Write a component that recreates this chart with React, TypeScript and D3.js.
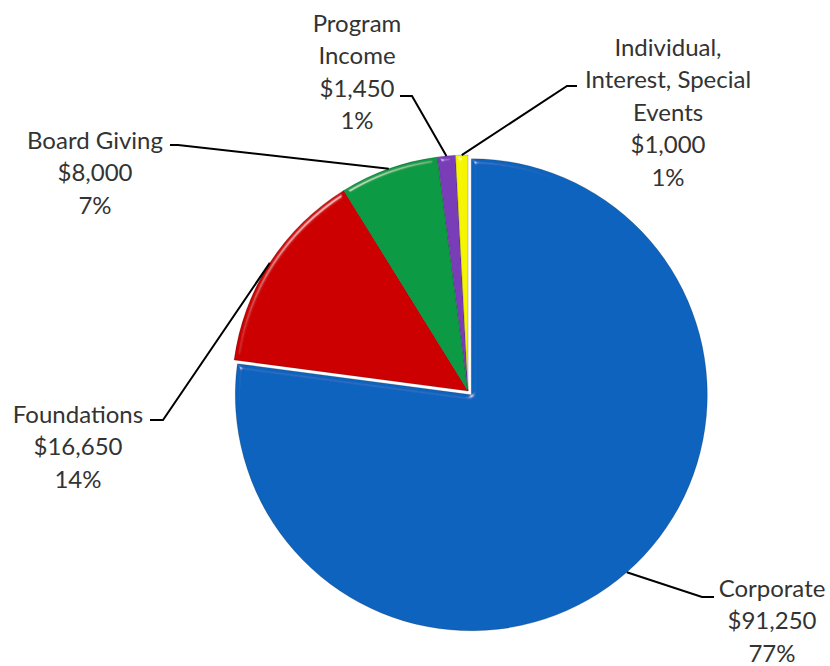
import React, { useEffect, useRef } from "react";
import * as d3 from "d3";

// chart data
const categories = ["Corporate", "Foundations", "Board Giving", "Program Income", "Individual, Interest, Special Events"];
const amounts = [91250, 16650, 8000, 1450, 1000];
const percentLabels = ["77%", "14%", "7%", "1%", "1%"];
const labelLines = [
  ["Corporate"],
  ["Foundations"],
  ["Board Giving"],
  ["Program", "Income"],
  ["Individual,", "Interest, Special", "Events"],
];
const colors = ["#0b63bd", "#cc0000", "#0b9a45", "#7a3cb8", "#f5f500"];

// label placement (text centre x, first line y, leader start, elbow)
const labelLayout = [
  { x: 772, y: 587, sx: 714, sy: 597, ex: 702, ey: 597 },
  { x: 78, y: 413, sx: 150, sy: 420, ex: 163, ey: 420 },
  { x: 95, y: 139, sx: 170, sy: 145, ex: 178, ey: 145 },
  { x: 357, y: 22, sx: 400, sy: 96, ex: 412, ey: 96 },
  { x: 668, y: 46, sx: 577, sy: 86, ex: 567, ey: 86 },
];

const W = 830;
const H = 666;
const CX = 468;
const CY = 391;
const R = 236;
const EXPLODE = 5;
const LINE_H = 32.5;

interface Slice {
  name: string;
  value: number;
  index: number;
}

const App: React.FC = () => {
  const svgRef = useRef<SVGSVGElement | null>(null);

  useEffect(() => {
    if (!svgRef.current) return;
    const svg = d3.select(svgRef.current);
    svg.selectAll("*").remove();

    const data: Slice[] = categories.map((name, i) => ({ name, value: amounts[i], index: i }));
    const fmt = d3.format(",");

    // soft bevel, roughly like the office chart style
    const defs = svg.append("defs");
    const filter = defs.append("filter").attr("id", "bevel").attr("x", "-10%").attr("y", "-10%").attr("width", "120%").attr("height", "120%");
    filter.append("feGaussianBlur").attr("in", "SourceAlpha").attr("stdDeviation", 2.5).attr("result", "blur");
    const spec = filter.append("feSpecularLighting")
      .attr("in", "blur")
      .attr("surfaceScale", 4)
      .attr("specularConstant", 0.8)
      .attr("specularExponent", 60)
      .attr("lighting-color", "#ffffff")
      .attr("result", "spec");
    spec.append("feDistantLight").attr("azimuth", 235).attr("elevation", 35);
    filter.append("feComposite").attr("in", "spec").attr("in2", "SourceAlpha").attr("operator", "in").attr("result", "specOut");
    filter.append("feComposite")
      .attr("in", "SourceGraphic")
      .attr("in2", "specOut")
      .attr("operator", "arithmetic")
      .attr("k1", 0).attr("k2", 1).attr("k3", 0.6).attr("k4", 0);

    const pie = d3.pie<Slice>().value((d) => d.value).sort(null);
    const arc = d3.arc<d3.PieArcDatum<Slice>>().innerRadius(0).outerRadius(R);
    const arcs = pie(data);

    const offset = (d: d3.PieArcDatum<Slice>) => {
      if (d.index !== 0) return [0, 0];
      const mid = (d.startAngle + d.endAngle) / 2;
      return [EXPLODE * Math.sin(mid), -EXPLODE * Math.cos(mid)];
    };

    const pieG = svg.append("g").attr("transform", `translate(${CX},${CY})`);

    pieG.selectAll("path.slice")
      .data(arcs)
      .enter()
      .append("path")
      .attr("class", "slice")
      .attr("transform", (d) => {
        const [dx, dy] = offset(d);
        return `translate(${dx},${dy})`;
      })
      .attr("d", arc as any)
      .attr("fill", (d) => colors[d.data.index])
      .attr("stroke", "rgba(0,0,0,0.3)")
      .attr("stroke-width", 0.6)
      .attr("filter", "url(#bevel)");

    // leader lines
    const leaders = svg.append("g");
    arcs.forEach((d) => {
      const L = labelLayout[d.index];
      const [dx, dy] = offset(d);
      const mid = (d.startAngle + d.endAngle) / 2;
      const px = CX + dx + R * Math.sin(mid);
      const py = CY + dy - R * Math.cos(mid);
      leaders.append("path")
        .attr("d", `M${L.sx},${L.sy}L${L.ex},${L.ey}L${px},${py}`)
        .attr("fill", "none")
        .attr("stroke", "#000")
        .attr("stroke-width", 2);
    });

    // labels
    const labels = svg.append("g")
      .style("font-family", "Lato, 'Noto Sans', sans-serif")
      .style("font-size", "24px")
      .attr("fill", "#333333");
    data.forEach((d, i) => {
      const L = labelLayout[i];
      const lines = [...labelLines[i], `$${fmt(d.value)}`, percentLabels[i]];
      const t = labels.append("text").attr("text-anchor", "middle");
      lines.forEach((line, j) => {
        t.append("tspan")
          .attr("x", L.x)
          .attr("y", L.y + j * LINE_H)
          .attr("dominant-baseline", "central")
          .text(line);
      });
    });
  }, []);

  return (
    <div style={{ position: "absolute", left: 0, top: 0, width: W, height: H, background: "#fff" }}>
      <svg ref={svgRef} width={W} height={H} style={{ display: "block" }} />
    </div>
  );
};

export default App;
